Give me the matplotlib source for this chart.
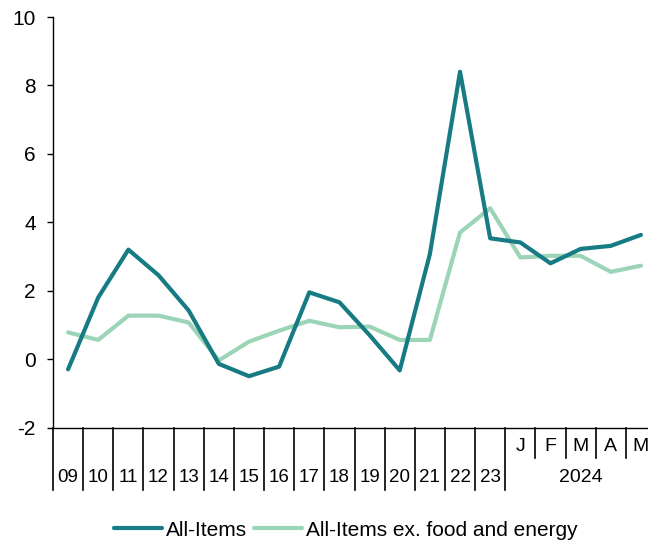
import numpy as np
import matplotlib.pyplot as plt
import matplotlib.transforms as mtransforms

plt.rcParams['font.family'] = ['Liberation Sans', 'DejaVu Sans']
plt.rcParams['axes.unicode_minus'] = False

# categories: years 2009-2023 then the months of 2024
years = ['09', '10', '11', '12', '13', '14', '15', '16', '17', '18',
         '19', '20', '21', '22', '23']
months = ['J', 'F', 'M', 'A', 'M']
month_year = '2024'

all_items = [-0.3, 1.8, 3.2, 2.45, 1.42, -0.14, -0.5, -0.22, 1.95, 1.66,
             0.7, -0.33, 3.07, 8.4, 3.53, 3.41, 2.8, 3.22, 3.31, 3.63]
core = [0.78, 0.56, 1.27, 1.27, 1.07, -0.04, 0.51, 0.83, 1.12, 0.93,
        0.95, 0.56, 0.56, 3.7, 4.41, 2.97, 3.02, 3.02, 2.55, 2.73]

c_all = '#177b84'
c_core = '#9bd4b6'

fig = plt.figure(figsize=(6.48, 5.45), dpi=100)
ax = fig.add_axes([53 / 648, 117.5 / 545, 603 / 648, 410.5 / 545])

n = len(years) + len(months)
x = np.arange(n)
ax.plot(x, all_items, color=c_all, lw=3, solid_capstyle='round', label='All-Items', zorder=3)
ax.plot(x, core, color=c_core, lw=3, solid_capstyle='round',
        label='All-Items ex. food and energy', zorder=2)

ax.set_xlim(-0.5, n - 0.5)
ax.set_ylim(-2, 10)
ax.set_yticks(np.arange(-2, 11, 2))
ax.tick_params(axis='y', labelsize=15, length=4.5, width=1, pad=8)
ax.set_xticks([])
for s in ['top', 'right']:
    ax.spines[s].set_visible(False)
for s in ['left', 'bottom']:
    ax.spines[s].set_linewidth(1.0)

# two-level category axis
tr = mtransforms.blended_transform_factory(ax.transData, ax.transAxes)
long_sep = -62 / 410.5
short_sep = -30 / 410.5
for i in range(len(years) + 1):
    ax.plot([i - 0.5, i - 0.5], [0, long_sep], transform=tr, color='black',
            lw=1.2, clip_on=False)
for i in range(len(years) + 1, n):
    ax.plot([i - 0.5, i - 0.5], [0, short_sep], transform=tr, color='black',
            lw=1.2, clip_on=False)
for i, lab in enumerate(years):
    ax.text(i, -50 / 410.5, lab, transform=tr, ha='center', va='center', fontsize=13.5)
for j, lab in enumerate(months):
    ax.text(len(years) + j, -19 / 410.5, lab, transform=tr, ha='center',
            va='center', fontsize=14)
ax.text(len(years) + (len(months) - 1) / 2, -50 / 410.5, month_year, transform=tr,
        ha='center', va='center', fontsize=14)

fig.legend(loc='center', bbox_to_anchor=(346 / 648, 15 / 545), ncol=2, frameon=False,
           fontsize=15, handlelength=2.3, handletextpad=0.2, columnspacing=0.35)

fig.savefig('out.png', dpi=100)
